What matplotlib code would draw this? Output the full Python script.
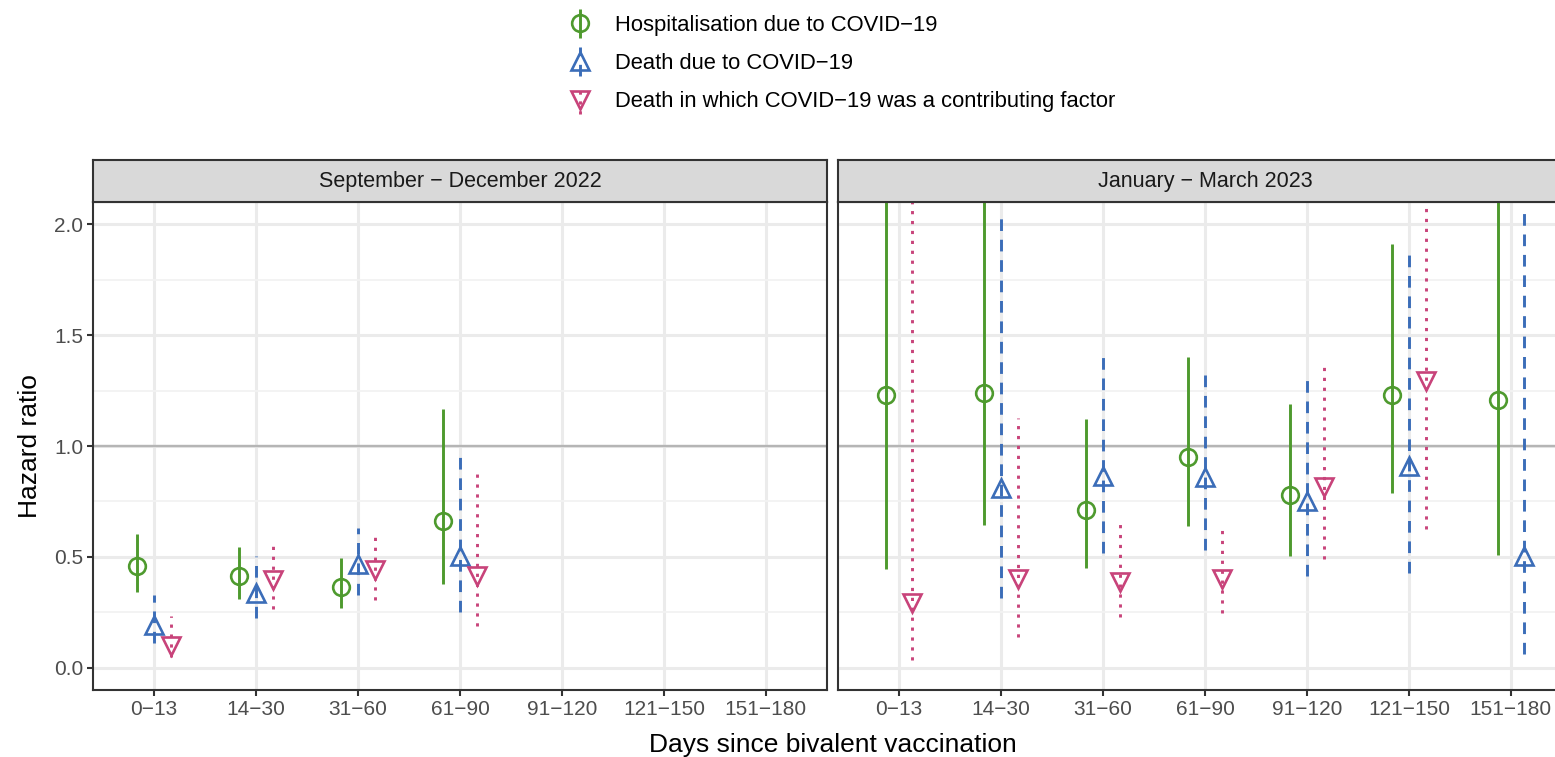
import numpy as np
import matplotlib
matplotlib.use("Agg")
import matplotlib.pyplot as plt
from matplotlib.legend_handler import HandlerErrorbar

plt.rcParams['font.family'] = ['Liberation Sans', 'DejaVu Sans']

# ---------------- data ----------------
categories = ["0\u221213", "14\u221230", "31\u221260", "61\u221290",
              "91\u2212120", "121\u2212150", "151\u2212180"]
panels = ["September \u2212 December 2022", "January \u2212 March 2023"]
series_names = ["Hospitalisation due to COVID\u221219",
                "Death due to COVID\u221219",
                "Death in which COVID\u221219 was a contributing factor"]

# September - December 2022
hosp_22_hr = [0.46, 0.413, 0.365, 0.661, None, None, None]
hosp_22_lo = [0.344, 0.312, 0.268, 0.376, None, None, None]
hosp_22_hi = [0.605, 0.545, 0.494, 1.169, None, None, None]
death_22_hr = [0.195, 0.339, 0.469, 0.505, None, None, None]
death_22_lo = [0.111, 0.223, 0.328, 0.251, None, None, None]
death_22_hi = [0.328, 0.505, 0.629, 0.974, None, None, None]
contrib_22_hr = [0.098, 0.395, 0.44, 0.412, None, None, None]
contrib_22_lo = [0.05, 0.267, 0.307, 0.188, None, None, None]
contrib_22_hi = [0.232, 0.577, 0.616, 0.878, None, None, None]

# January - March 2023 (upper limits above 2.1 are off the chart, estimated)
hosp_23_hr = [1.228, 1.239, 0.711, 0.952, 0.777, 1.23, 1.206]
hosp_23_lo = [0.445, 0.646, 0.452, 0.641, 0.502, 0.789, 0.508]
hosp_23_hi = [3.4, 2.4, 1.12, 1.402, 1.191, 1.912, 2.9]
death_23_hr = [None, 0.81, 0.867, 0.859, 0.751, 0.91, 0.505]
death_23_lo = [None, 0.315, 0.516, 0.532, 0.416, 0.429, 0.063]
death_23_hi = [None, 2.053, 1.408, 1.344, 1.312, 1.875, 2.056]
contrib_23_hr = [0.291, 0.40, 0.389, 0.40, 0.815, 1.293, None]
contrib_23_lo = [0.034, 0.14, 0.228, 0.248, 0.489, 0.625, None]
contrib_23_hi = [3.0, 1.128, 0.674, 0.646, 1.354, 2.6, None]

panel_data = [
    [(hosp_22_hr, hosp_22_lo, hosp_22_hi),
     (death_22_hr, death_22_lo, death_22_hi),
     (contrib_22_hr, contrib_22_lo, contrib_22_hi)],
    [(hosp_23_hr, hosp_23_lo, hosp_23_hi),
     (death_23_hr, death_23_lo, death_23_hi),
     (contrib_23_hr, contrib_23_lo, contrib_23_hi)],
]

colors = ["#4E9A2E", "#3B6DB8", "#C8437A"]
markers = ["o", "^", "v"]
marker_sizes = [12, 13, 13]
bar_styles = ["-", (0, (4, 3)), (0, (1.1, 2.3))]

# ---------------- layout (pixels of a 1555x757 figure) ----------------
W, H = 1555, 757
fig = plt.figure(figsize=(W / 100, H / 100), dpi=100)

def fx(px):
    return px / W

def fy(py):
    return 1 - py / H

panel_top, panel_bot = 202, 690
strip_top = 160
panel_lefts = [93, 838]
panel_w = 734

DODGE = 0.5
handles = None

for p, (left, title, data) in enumerate(zip(panel_lefts, panels, panel_data)):
    ax = fig.add_axes([fx(left), fy(panel_bot), fx(panel_w),
                       fy(panel_top) - fy(panel_bot)])
    ax.set_xlim(0.4, len(categories) + 0.6)
    ax.set_ylim(-0.1, 2.1)

    # grid like theme_bw
    ax.set_xticks(np.arange(1, len(categories) + 1))
    ax.set_xticklabels(categories)
    ax.set_yticks([0, 0.5, 1.0, 1.5, 2.0])
    ax.set_yticks([0.25, 0.75, 1.25, 1.75], minor=True)
    ax.grid(True, which="major", color="#EBEBEB", lw=2.2, zorder=0)
    ax.grid(True, which="minor", axis="y", color="#F2F2F2", lw=1.3, zorder=0)
    ax.set_axisbelow(True)
    ax.axhline(1.0, color="#B5B5B5", lw=1.7, zorder=1)

    # dodge offsets like position_dodge(width = 0.5)
    present = [[s for s in range(3) if data[s][0][i] is not None]
               for i in range(len(categories))]
    conts = []
    for s, (hr, lo, hi) in enumerate(data):
        xs, ys, el, eh = [], [], [], []
        for i in range(len(categories)):
            if hr[i] is None:
                continue
            n = len(present[i])
            k = present[i].index(s)
            xs.append(i + 1 + DODGE * ((k + 0.5) / n - 0.5))
            ys.append(hr[i])
            el.append(hr[i] - lo[i])
            eh.append(hi[i] - hr[i])
        eb = ax.errorbar(xs, ys, yerr=[el, eh], fmt=markers[s], color=colors[s],
                         mfc="none", ms=marker_sizes[s], mew=1.9,
                         elinewidth=2.1, capsize=0, zorder=3, label=series_names[s])
        eb[2][0].set_linestyle(bar_styles[s])
        conts.append(eb)
    if handles is None:
        handles = conts

    for sp in ax.spines.values():
        sp.set_color("#333333")
        sp.set_linewidth(1.5)
    ax.tick_params(axis="both", which="major", length=4, width=1.5,
                   color="#333333", labelcolor="#4D4D4D", labelsize=15, pad=3)
    ax.tick_params(axis="both", which="minor", length=0)
    if p == 1:
        ax.tick_params(axis="y", which="major", length=0, labelleft=False)
    else:
        ax.set_yticklabels(["0.0", "0.5", "1.0", "1.5", "2.0"])

    # facet strip
    sax = fig.add_axes([fx(left), fy(panel_top), fx(panel_w),
                        fy(strip_top) - fy(panel_top)])
    sax.set_facecolor("#D9D9D9")
    sax.set_xticks([])
    sax.set_yticks([])
    for sp in sax.spines.values():
        sp.set_color("#333333")
        sp.set_linewidth(1.5)
    sax.text(0.5, 0.5, title, transform=sax.transAxes, ha="center", va="center",
             fontsize=15.5, color="#1A1A1A")

fig.text(fx(30), fy(446), "Hazard ratio", rotation=90, ha="center", va="center",
         fontsize=19)
fig.text(fx(833), fy(745), "Days since bivalent vaccination", ha="center",
         va="center", fontsize=19)

fig.legend(handles, series_names, loc="upper left",
           bbox_to_anchor=(fx(566), fy(15)), frameon=False, fontsize=15.8,
           handlelength=1.3, handletextpad=0.95, labelspacing=0.78,
           borderpad=0, borderaxespad=0,
           handler_map={type(handles[0]): HandlerErrorbar(yerr_size=0.65)})

fig.savefig("out.png", dpi=100)
